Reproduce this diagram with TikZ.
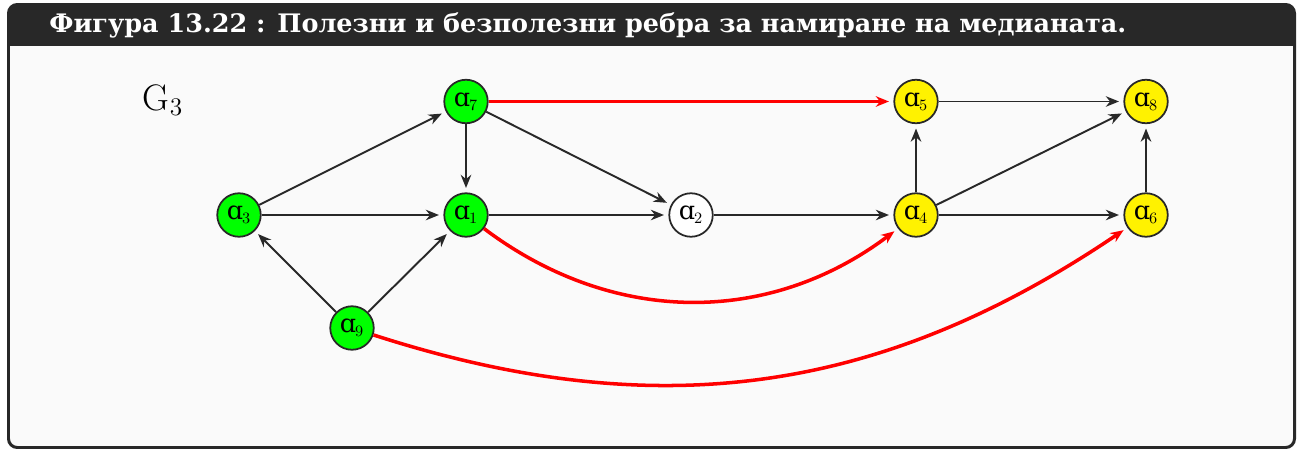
\documentclass[tikz,border=0pt]{standalone}
\usepackage{fontspec}
\newfontfamily\titlefont{DejaVu Serif}
\newfontfamily\labelfont{DejaVu Serif}
\usetikzlibrary{positioning, arrows.meta}

\definecolor{framedark}{HTML}{282828}
\definecolor{bodybg}{HTML}{FAFAFA}
\newcommand{\av}[1]{{\labelfont\fontsize{14.5}{15}\selectfont ɑ}\kern-0.5pt$_{#1}$}

\tikzset{
  vertex/.style={circle, draw=framedark, line width=1pt, minimum size=0.87cm,
    inner sep=0pt, font=\fontsize{13.5}{14}\selectfont},
  useful/.style={vertex, fill=green},
  after/.style={vertex, fill=yellow},
  plain/.style={vertex, fill=white},
  edge/.style={-{Stealth[length=7.5pt,width=6pt]}, line width=1.1pt, draw=framedark, shorten >=2.5pt},
  redge/.style={-{Stealth[length=7.5pt,width=6pt]}, line width=2pt, draw=red, shorten >=2.5pt}
}

\begin{document}
\begin{tikzpicture}
    \useasboundingbox (0,0) rectangle (25.96,9);

    % ---------------- FRAME ----------------
    \draw[line width=1.7pt, draw=framedark, fill=bodybg, rounded corners=5pt] (0.17,0.05) rectangle (25.89,8.91);
    \fill[framedark, rounded corners=5pt] (0.17,8.08) rectangle (25.89,8.91);
    \fill[framedark] (0.17,8.08) rectangle (25.89,8.4);
    \node[anchor=base west, inner sep=0pt, text=white, font=\titlefont\bfseries\fontsize{14.5}{16}\selectfont] (title) at (0.98,8.34)
        {Фигура 13.22 : Полезни и безполезни ребра за намиране на медианата.};

    % ---------------- GRAPH ----------------
    \node[font=\fontsize{21}{24}\selectfont] (gname) at (3.26,7.0) {$\mathrm{G}_3$};

    \node[useful] (a7) at (9.32,6.97) {\av{7}};
    \node[after]  (a5) at (18.32,6.97) {\av{5}};
    \node[after]  (a8) at (22.92,6.97) {\av{8}};

    \node[useful] (a3) at (4.78,4.70) {\av{3}};
    \node[useful] (a1) at (9.32,4.70) {\av{1}};
    \node[plain]  (a2) at (13.82,4.70) {\av{2}};
    \node[after]  (a4) at (18.32,4.70) {\av{4}};
    \node[after]  (a6) at (22.92,4.70) {\av{6}};

    \node[useful] (a9) at (7.04,2.44) {\av{9}};

    % Plain edges
    \draw[edge] (a3) -- (a7);
    \draw[edge] (a3) -- (a1);
    \draw[edge] (a9) -- (a3);
    \draw[edge] (a9) -- (a1);
    \draw[edge] (a7) -- (a1);
    \draw[edge] (a7) -- (a2);
    \draw[edge] (a1) -- (a2);
    \draw[edge] (a2) -- (a4);
    \draw[edge] (a4) -- (a5);
    \draw[edge] (a4) -- (a8);
    \draw[edge] (a4) -- (a6);
    \draw[edge] (a5) -- (a8);
    \draw[edge] (a6) -- (a8);

    % Useful edges
    \draw[redge] (a7) -- (a5);
    \draw[redge] (a1) to[bend right=37] (a4);
    \draw[redge] (a9) to[bend right=26] (a6);
\end{tikzpicture}
\end{document}
